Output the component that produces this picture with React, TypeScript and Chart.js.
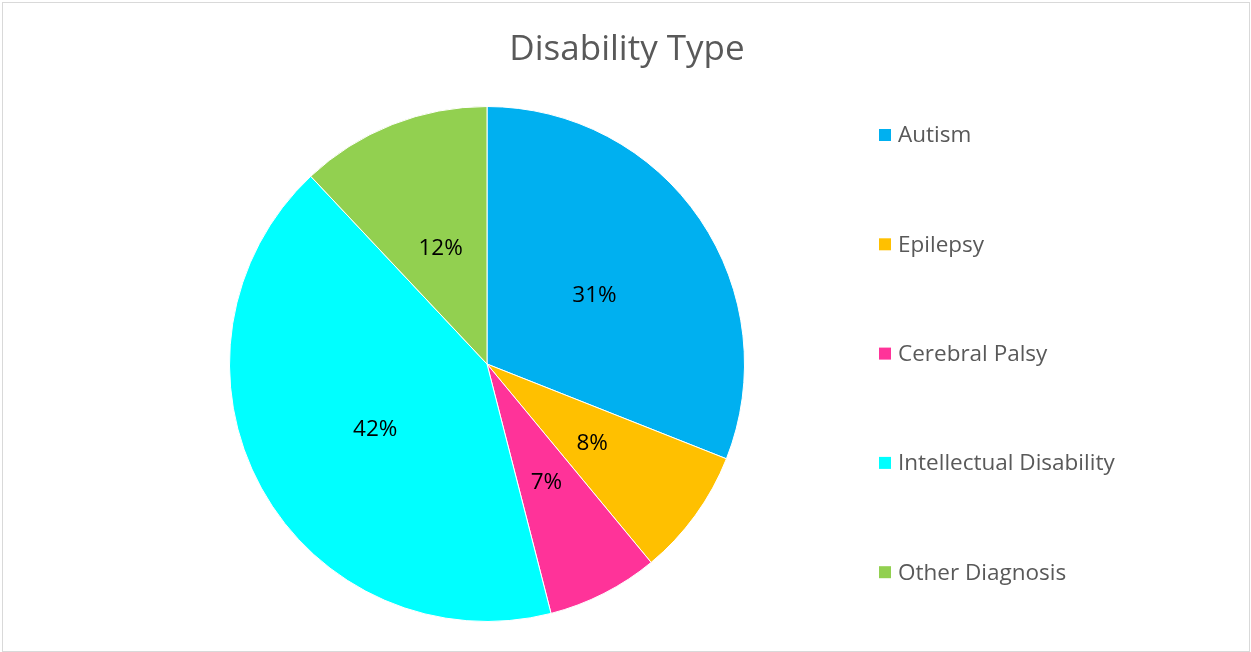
import React, { useEffect, useRef } from "react";
import { Chart, registerables } from "chart.js";

Chart.register(...registerables);

const title = "Disability Type";
const categories = ["Autism", "Epilepsy", "Cerebral Palsy", "Intellectual Disability", "Other Diagnosis"];
const values = [31, 8, 7, 42, 12];
const colors = ["#00B0F0", "#FFC000", "#FF3399", "#00FFFF", "#92D050"];

const FONT = "'Segoe UI', 'Open Sans', sans-serif";

const decorPlugin = {
  id: "decor",
  afterDraw(chart: any) {
    const ctx = chart.ctx as CanvasRenderingContext2D;
    const W = chart.width;
    const H = chart.height;
    ctx.save();
    // frame
    ctx.strokeStyle = "#d9d9d9";
    ctx.lineWidth = 1;
    ctx.strokeRect(2.5, 2.5, W - 4, H - 3);
    // title
    ctx.fillStyle = "#595959";
    ctx.font = `35px ${FONT}`;
    ctx.textAlign = "center";
    ctx.textBaseline = "middle";
    ctx.fillText(title, 627, 50);
    // data labels
    const meta = chart.getDatasetMeta(0);
    const total = values.reduce((a, b) => a + b, 0);
    ctx.fillStyle = "#000000";
    ctx.font = `22.5px ${FONT}`;
    meta.data.forEach((arc: any, i: number) => {
      const p = arc.tooltipPosition();
      const pct = Math.round((values[i] / total) * 100) + "%";
      ctx.fillText(pct, p.x + 1, p.y + 4);
    });
    // legend
    ctx.textAlign = "left";
    ctx.font = `22.5px ${FONT}`;
    const legendX = 879;
    const firstY = 135;
    const step = 109.3;
    categories.forEach((c, i) => {
      const y = firstY + i * step;
      ctx.fillStyle = colors[i];
      ctx.fillRect(legendX, y - 6, 12, 12);
      ctx.fillStyle = "#595959";
      ctx.fillText(c, legendX + 19, y + 1);
    });
    ctx.restore();
  },
};

export default function App() {
  const ref = useRef<HTMLCanvasElement | null>(null);
  useEffect(() => {
    if (!ref.current) return;
    const chart = new Chart(ref.current, {
      type: "pie",
      data: {
        labels: categories,
        datasets: [
          {
            data: values,
            backgroundColor: colors,
            borderColor: "#ffffff",
            borderWidth: 1,
          },
        ],
      },
      options: {
        responsive: false,
        animation: false,
        layout: { padding: { left: 229, right: 506, top: 106, bottom: 30 } },
        plugins: {
          legend: { display: false },
          title: { display: false },
          tooltip: { enabled: false },
        },
      },
      plugins: [decorPlugin],
    });
    return () => chart.destroy();
  }, []);
  return (
    <>
      <style>{`body{margin:0;background:#fff}`}</style>
      <canvas ref={ref} width={1251} height={652} style={{ display: "block" }} />
    </>
  );
}
